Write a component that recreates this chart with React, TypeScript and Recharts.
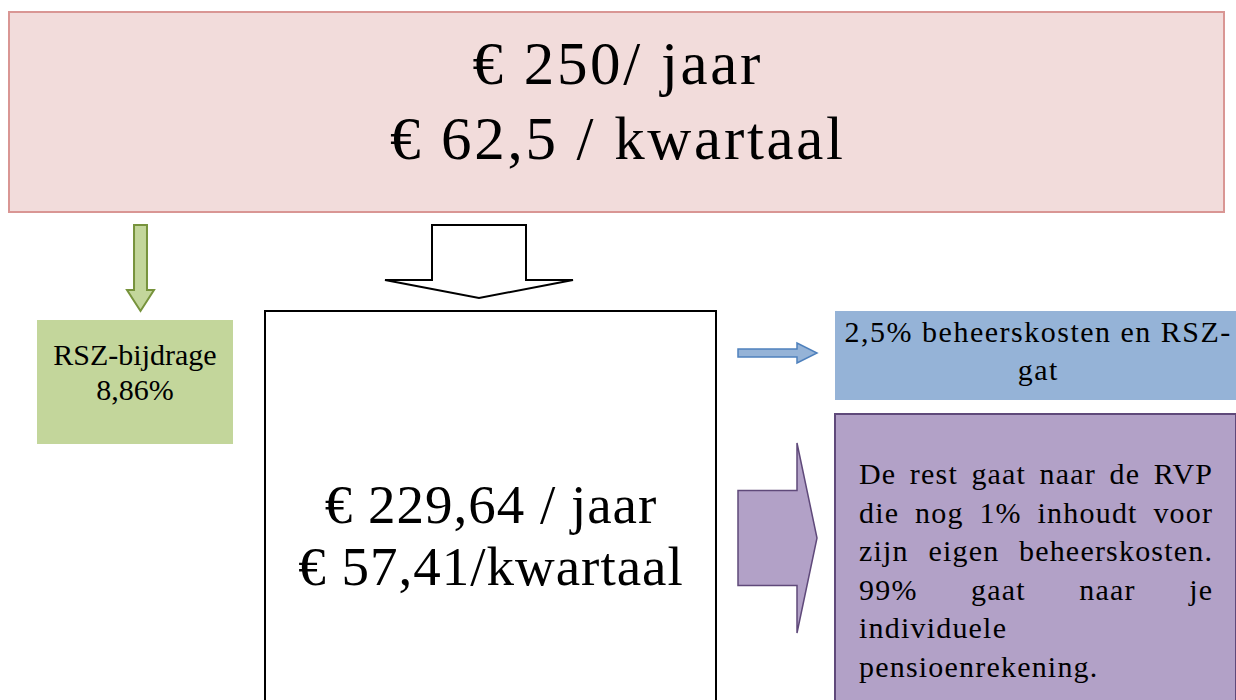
import React from 'react';
import { ComposedChart, XAxis, YAxis, ReferenceArea } from 'recharts';

// text content of the diagram
const topLines = ['€ 250/ jaar', '€ 62,5 / kwartaal'];
const rszLines = ['RSZ-bijdrage', '8,86%'];
const netLines = ['€ 229,64 / jaar', '€ 57,41/kwartaal'];
const costLines = ['2,5% beheerskosten en RSZ-', 'gat'];
const rvpLines = [
  'De rest gaat naar de RVP',
  'die nog 1% inhoudt voor',
  'zijn eigen beheerskosten.',
  '99% gaat naar je',
  'individuele',
  'pensioenrekening.',
];

const W = 1236;
const H = 700;
const FONT = '"Liberation Serif", "Times New Roman", serif';

let ctx: CanvasRenderingContext2D | null = null;
const textWidth = (s: string, size: number, ls: number) => {
  if (!ctx && typeof document !== 'undefined') ctx = document.createElement('canvas').getContext('2d');
  if (!ctx) return s.length * size * 0.45;
  ctx.font = `${size}px ${FONT}`;
  return ctx.measureText(s).width + ls * s.length;
};

// centered text box
const centerBox = (fill: string, stroke: string, sw: number, lines: string[], size: number, ls: number, offsets: number[]) =>
  (props: any) => {
    const { x, y, width, height } = props;
    const cx = x + width / 2 + ls / 2;
    return (
      <g>
        <rect x={x} y={y} width={width} height={height} fill={fill} stroke={stroke} strokeWidth={sw} />
        {lines.map((l, i) => (
          <text key={i} x={cx} y={y + offsets[i]} textAnchor="middle" fontFamily={FONT} fontSize={size}
            letterSpacing={ls} fill="#000">
            {l}
          </text>
        ))}
      </g>
    );
  };

// justified paragraph box
const justifyBox = (fill: string, stroke: string, sw: number, lines: string[], size: number, ls: number,
  pad: number, first: number, step: number) =>
  (props: any) => {
    const { x, y, width, height } = props;
    const left = x + pad;
    const avail = width - pad * 2;
    return (
      <g>
        <rect x={x} y={y} width={width} height={height} fill={fill} stroke={stroke} strokeWidth={sw} />
        {lines.map((l, i) => {
          const words = l.split(' ');
          const by = y + first + i * step;
          if (words.length < 2 || i === lines.length - 1) {
            return (
              <text key={i} x={left} y={by} fontFamily={FONT} fontSize={size} letterSpacing={ls} fill="#000">{l}</text>
            );
          }
          const widths = words.map(w => textWidth(w, size, ls));
          const gap = (avail + ls - widths.reduce((a, b) => a + b, 0)) / (words.length - 1);
          let cur = left;
          return (
            <text key={i} y={by} fontFamily={FONT} fontSize={size} letterSpacing={ls} fill="#000">
              {words.map((w, j) => {
                const px = cur;
                cur += widths[j] + gap;
                return <tspan key={j} x={px}>{w}</tspan>;
              })}
            </text>
          );
        })}
      </g>
    );
  };

// block arrows drawn inside their bounding box
const downArrow = (fill: string, stroke: string, sw: number, shaft: number, head: number) => (props: any) => {
  const { x, y, width, height } = props;
  const cx = x + width / 2;
  const hs = (width * shaft) / 2;
  const hy = y + height - head;
  const pts = [
    [cx - hs, y], [cx + hs, y], [cx + hs, hy], [x + width, hy],
    [cx, y + height], [x, hy], [cx - hs, hy],
  ].map(p => p.join(',')).join(' ');
  return <polygon points={pts} fill={fill} stroke={stroke} strokeWidth={sw} strokeLinejoin="miter" />;
};

const rightArrow = (fill: string, stroke: string, sw: number, shaft: number, head: number) => (props: any) => {
  const { x, y, width, height } = props;
  const cy = y + height / 2;
  const hs = (height * shaft) / 2;
  const hx = x + width - head;
  const pts = [
    [x, cy - hs], [hx, cy - hs], [hx, y], [x + width, cy],
    [hx, y + height], [hx, cy + hs], [x, cy + hs],
  ].map(p => p.join(',')).join(' ');
  return <polygon points={pts} fill={fill} stroke={stroke} strokeWidth={sw} strokeLinejoin="miter" />;
};

export default function App() {
  return (
    <div style={{ position: 'absolute', left: 0, top: 0, background: '#fff' }}>
      <ComposedChart width={W} height={H} data={[{ x: 0, y: 0 }]} margin={{ top: 0, right: 0, bottom: 0, left: 0 }}>
        <XAxis type="number" dataKey="x" domain={[0, W]} hide allowDataOverflow />
        <YAxis type="number" dataKey="y" domain={[0, H]} reversed hide allowDataOverflow />

        <ReferenceArea x1={9} x2={1224} y1={12} y2={212} ifOverflow="visible"
          shape={centerBox('#f2dcdb', '#d99694', 2, topLines, 61, 2.7, [72, 147])} />

        <ReferenceArea x1={127} x2={154} y1={225} y2={311} ifOverflow="visible"
          shape={downArrow('#c3d69b', '#77933c', 2, 0.48, 21)} />
        <ReferenceArea x1={385} x2={573} y1={225} y2={298} ifOverflow="visible"
          shape={downArrow('#ffffff', '#000000', 2, 0.5, 18)} />

        <ReferenceArea x1={37} x2={233} y1={320} y2={444} ifOverflow="visible"
          shape={centerBox('#c3d69b', 'none', 0, rszLines, 30, 0, [45, 80])} />

        <ReferenceArea x1={265} x2={716} y1={311} y2={720} ifOverflow="visible"
          shape={centerBox('#ffffff', '#000000', 2, netLines, 55, 1, [212, 274])} />

        <ReferenceArea x1={738} x2={817} y1={343} y2={363} ifOverflow="visible"
          shape={rightArrow('#95b3d7', '#4f81bd', 1.5, 0.4, 20)} />
        <ReferenceArea x1={738} x2={817} y1={443} y2={633} ifOverflow="visible"
          shape={rightArrow('#b2a1c7', '#5f497a', 1.5, 0.5, 20)} />

        <ReferenceArea x1={835} x2={1240} y1={311} y2={400} ifOverflow="visible"
          shape={centerBox('#95b3d7', 'none', 0, costLines, 30, 1.5, [31, 69])} />

        <ReferenceArea x1={835} x2={1236} y1={414} y2={720} ifOverflow="visible"
          shape={justifyBox('#b2a1c7', '#5f497a', 2, rvpLines, 30, 1.2, 24, 70, 38.6)} />
      </ComposedChart>
    </div>
  );
}
